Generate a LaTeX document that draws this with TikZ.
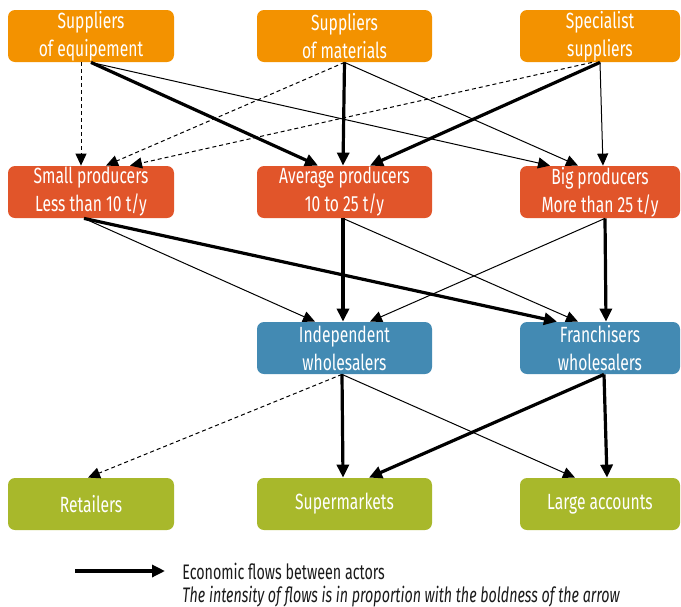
\documentclass[tikz,border=0pt]{standalone}
\usepackage{fontspec}
\setmainfont{Fira Sans}[FakeStretch=0.71]
\newfontfamily\keyfont{Fira Sans}[FakeStretch=0.68]
\usetikzlibrary{positioning,arrows.meta,calc}
\definecolor{supply}{HTML}{F39200}
\definecolor{prod}{HTML}{E1552A}
\definecolor{whole}{HTML}{438AB3}
\definecolor{sell}{HTML}{A8B82B}
\definecolor{ink}{HTML}{1A1A1A}

\tikzset{
  actor/.style={fill=#1, text=white, rounded corners=3.5pt, minimum height=26pt,
    inner sep=0pt, align=center, font=\fontsize{11}{14}\selectfont},
  narrow/.style={minimum width=80pt},
  mid/.style={minimum width=87.5pt},
  wide/.style={minimum width=83pt},
  heavy/.style={line width=1.6pt, -{Triangle[length=6.5pt,width=6pt]}},
  light/.style={line width=0.5pt, -{Triangle[length=6pt,width=5.5pt]}},
  weak/.style={light, dash pattern=on 2pt off 1.5pt},
  keylabel/.style={anchor=west, inner sep=0pt, text=ink, font=\keyfont\fontsize{10.5}{12}\selectfont},
}

\begin{document}
\begin{tikzpicture}[x=0.5pt, y=-0.5pt]
  \useasboundingbox (0,0) rectangle (681,606);
  % suppliers
  \node[actor=supply, wide] (equip) at (91,36) {Suppliers\\of equipement};
  \node[actor=supply, mid] (mat) at (344.5,36) {Suppliers\\of materials};
  \node[actor=supply, narrow] (spec) at (600,36) {Specialist\\suppliers};
  % producers
  \node[actor=prod, wide] (small) at (91,192) {Small producers\\Less than 10 t/y};
  \node[actor=prod, mid] (avg) at (344.5,192) {Average producers\\10 to 25 t/y};
  \node[actor=prod, narrow] (big) at (600,192) {Big producers\\More than 25 t/y};
  % wholesalers
  \node[actor=whole, mid] (indep) at (344.5,348) {Independent\\wholesalers};
  \node[actor=whole, narrow] (franch) at (600,348) {Franchisers\\wholesalers};
  % sellers
  \node[actor=sell, wide] (retail) at (91,504) {Retailers};
  \node[actor=sell, mid] (super) at (344.5,504) {Supermarkets};
  \node[actor=sell, narrow] (large) at (600,504) {Large accounts};

  % suppliers -> producers
  \draw[weak] ($(equip.south)+(-10,0)$) -- ($(small.north)+(-10,0)$);
  \draw[heavy] (equip.south) -- ($(avg.north)+(-26.5,0)$);
  \draw[light] (equip.south) -- ($(big.north)+(-50,0)$);
  \draw[weak] (mat.south) -- ($(small.north)+(15,0)$);
  \draw[heavy] (mat.south) -- ($(avg.north)+(-1.5,0)$);
  \draw[light] (mat.south) -- ($(big.north)+(-22,0)$);
  \draw[weak] ($(spec.south)+(-8,0)$) -- ($(small.north)+(39,0)$);
  \draw[heavy] (spec.south) -- ($(avg.north)+(25.5,0)$);
  \draw[light] (spec.south) -- ($(big.north)+(3,0)$);

  % producers -> wholesalers
  \draw[heavy] ($(small.south)+(-7,0)$) -- ($(franch.north)+(-43,0)$);
  \draw[light] ($(small.south)+(-7,0)$) -- ($(indep.north)+(-29.5,0)$);
  \draw[heavy] ($(avg.south)+(-1.5,0)$) -- ($(indep.north)+(-1.5,0)$);
  \draw[light] ($(avg.south)+(-1.5,0)$) -- ($(franch.north)+(-22,0)$);
  \draw[heavy] ($(big.south)+(5,0)$) -- ($(franch.north)+(6,0)$);
  \draw[light] ($(big.south)+(5,0)$) -- ($(indep.north)+(25.5,0)$);

  % wholesalers -> sellers
  \draw[weak] ($(indep.south)+(-2.5,0)$) -- ($(retail.north)+(-3,0)$);
  \draw[heavy] ($(indep.south)+(-2.5,0)$) -- ($(super.north)+(-1.5,0)$);
  \draw[light] ($(indep.south)+(-2.5,0)$) -- ($(large.north)+(-25,0)$);
  \draw[heavy] ($(franch.south)+(4,0)$) -- ($(super.north)+(24.5,0)$);
  \draw[heavy] ($(franch.south)+(4,0)$) -- ($(large.north)+(7,0)$);

  % legend
  \coordinate (keyA) at (75,571);
  \coordinate (keyB) at (165,571);
  \draw[heavy] (keyA) -- (keyB);
  \node[keylabel] (keytext) at (182,571) {Economic flows between actors};
  \node[keylabel, font=\keyfont\fontsize{10.5}{12}\selectfont\itshape] (keynote) at (182,597) {The intensity of flows is in proportion with the boldness of the arrow};
\end{tikzpicture}
\end{document}
